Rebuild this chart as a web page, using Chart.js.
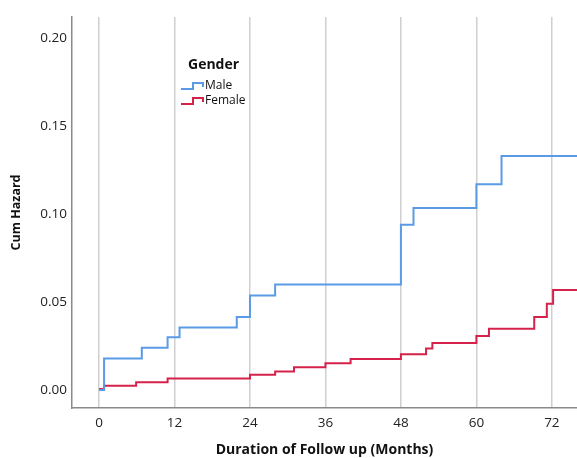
<!DOCTYPE html>
<html>
<head>
<meta charset="utf-8">
<script src="https://cdn.jsdelivr.net/npm/chart.js@4.4.1/dist/chart.umd.min.js"></script>
<style>
  html, body { margin: 0; padding: 0; background: #fff; }
  #wrap { width: 577px; height: 458px; }
</style>
</head>
<body>
<div id="wrap"><canvas id="myChart" width="577" height="458"></canvas></div>
<script>
// Months at which each cumulative hazard step starts
const maleTimes = [0, 0.8, 6.8, 10.9, 12.8, 21.9, 24, 28, 48, 50, 60, 64, 77];
const maleHazard = [0.0, 0.018, 0.024, 0.030, 0.0355, 0.0415, 0.0537, 0.060, 0.094, 0.1035, 0.117, 0.133, 0.133];

const femaleTimes = [0, 0.8, 5.9, 10.9, 24, 28, 31, 36, 40, 48, 52, 53, 60, 62, 69.2, 71.2, 72.2, 77];
const femaleHazard = [0.0006, 0.0025, 0.0044, 0.0066, 0.0087, 0.0106, 0.0129, 0.0152, 0.0176, 0.0204, 0.0236, 0.0267, 0.0307, 0.0348, 0.0415, 0.049, 0.0568, 0.0568];

const xTicks = [0, 12, 24, 36, 48, 60, 72];
const yTicks = [0, 0.05, 0.10, 0.15, 0.20];

const maleColor = '#5b9be6';
const femaleColor = '#d5224b';

function toPoints(times, values) {
    return times.map((t, i) => ({ x: t, y: values[i] }));
}

// Legend drawn inside the plot, SPSS style with a little step icon
const stepLegend = {
    id: 'stepLegend',
    afterDraw(chart) {
        const ctx = chart.ctx;
        ctx.save();
        ctx.fillStyle = '#111';
        ctx.font = 'bold 14px "Open Sans"';
        ctx.textBaseline = 'middle';
        ctx.textAlign = 'left';
        ctx.fillText('Gender', 188, 65);
        ctx.font = '12px "Open Sans"';
        chart.data.datasets.forEach((ds, i) => {
            const y = 87 + i * 15;
            ctx.strokeStyle = ds.borderColor;
            ctx.lineWidth = 2;
            ctx.beginPath();
            ctx.moveTo(181, y + 2);
            ctx.lineTo(193, y + 2);
            ctx.lineTo(193, y - 4);
            ctx.lineTo(203, y - 4);
            ctx.lineTo(203, y);
            ctx.stroke();
            ctx.fillStyle = '#111';
            ctx.fillText(ds.label, 205, y - 1);
        });
        ctx.restore();
    }
};

const ctx = document.getElementById('myChart').getContext('2d');

const myChart = new Chart(ctx, {
    type: 'line',
    data: {
        datasets: [{
            label: 'Male',
            data: toPoints(maleTimes, maleHazard),
            borderColor: maleColor,
            borderWidth: 2,
            stepped: 'before',
            pointRadius: 0,
            fill: false
        }, {
            label: 'Female',
            data: toPoints(femaleTimes, femaleHazard),
            borderColor: femaleColor,
            borderWidth: 2,
            stepped: 'before',
            pointRadius: 0,
            fill: false
        }]
    },
    options: {
        responsive: false,
        animation: false,
        layout: {
            padding: { top: 17, right: 0, left: 0, bottom: 0 }
        },
        plugins: {
            legend: { display: false },
            tooltip: { enabled: false }
        },
        scales: {
            x: {
                type: 'linear',
                min: -4.3,
                max: 76,
                afterBuildTicks: scale => {
                    scale.ticks = xTicks.map(v => ({ value: v }));
                },
                afterFit: scale => { scale.height = 50; },
                grid: {
                    color: '#cfcfcf',
                    lineWidth: 1.5,
                    drawTicks: false
                },
                border: { color: '#8a8a8a', width: 1.5 },
                ticks: {
                    color: '#222',
                    padding: 7,
                    font: { family: '"Open Sans"', size: 13.5 },
                    maxRotation: 0
                },
                title: {
                    display: true,
                    text: 'Duration of Follow up (Months)',
                    color: '#111',
                    font: { family: '"Open Sans"', size: 14, weight: 'bold' },
                    padding: { top: 8, bottom: 0 }
                }
            },
            y: {
                min: -0.0102,
                max: 0.212,
                afterBuildTicks: scale => {
                    scale.ticks = yTicks.map(v => ({ value: v }));
                },
                afterFit: scale => { scale.width = 72; },
                grid: { display: false, drawTicks: false },
                border: { color: '#8a8a8a', width: 1.5 },
                ticks: {
                    color: '#222',
                    padding: 5,
                    font: { family: '"Open Sans"', size: 13.5 },
                    callback: v => v.toFixed(2)
                },
                title: {
                    display: true,
                    text: 'Cum Hazard',
                    color: '#111',
                    font: { family: '"Open Sans"', size: 12.5, weight: 'bold' },
                    padding: { top: 9, bottom: 0 }
                }
            }
        }
    },
    plugins: [stepLegend]
});
</script>
</body>
</html>
